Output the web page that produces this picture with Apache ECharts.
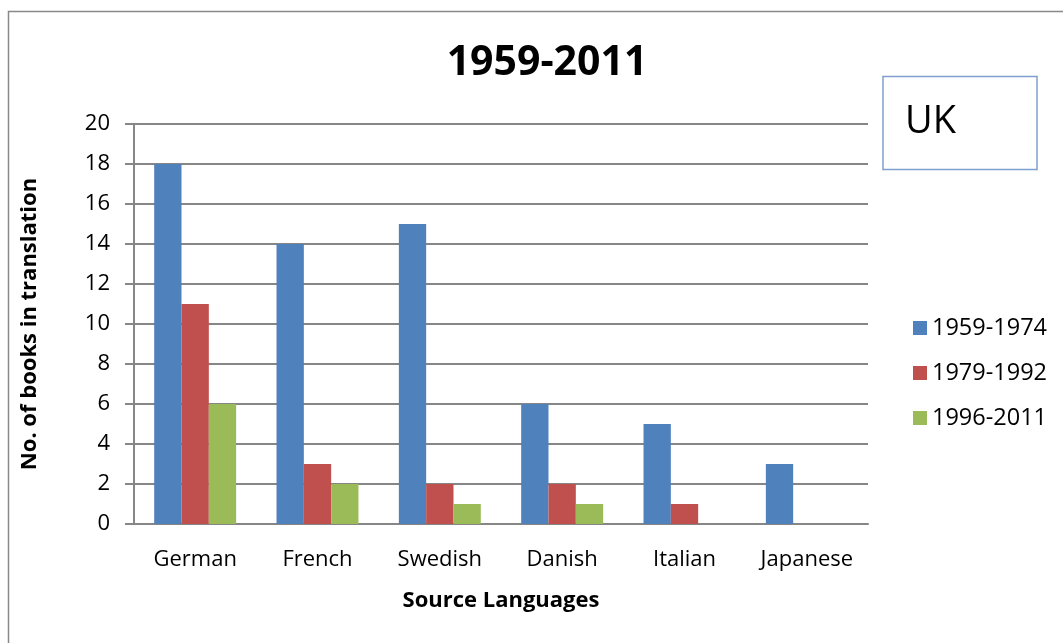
<!DOCTYPE html>
<html><head><meta charset="utf-8">
<script src="https://cdn.jsdelivr.net/npm/echarts@6/dist/echarts.min.js"></script>
<style>html,body{margin:0;padding:0;background:#fff}#c{width:1063px;height:643px}</style>
</head><body><div id="c"></div>
<script>
const categories = ['German', 'French', 'Swedish', 'Danish', 'Italian', 'Japanese'];
const seriesNames = ['1959-1974', '1979-1992', '1996-2011'];
const s1959 = [18, 14, 15, 6, 5, 3];
const s1979 = [11, 3, 2, 2, 1, 0];
const s1996 = [6, 2, 1, 1, 0, 0];
const colors = ['#4F81BD', '#C0504D', '#9BBB59'];
const font = '"Open Sans", "Noto Sans", sans-serif';

const chart = echarts.init(document.getElementById('c'), null, {renderer: 'canvas'});
chart.setOption({
  animation: false,
  textStyle: {fontFamily: font},
  title: {text: '1959-2011', left: 542, top: 38, textAlign: 'center',
    textStyle: {fontSize: 41, fontWeight: 'bold', color: '#000', fontFamily: font}},
  grid: {left: 134, right: 195, top: 124, bottom: 119, containLabel: false},
  legend: {orient: 'vertical', left: 908, top: 311, itemWidth: 14, itemHeight: 14, itemGap: 21,
    icon: 'rect', textStyle: {fontSize: 23.5, color: '#000', fontFamily: font},
    data: seriesNames},
  xAxis: {type: 'category', data: categories,
    axisLine: {lineStyle: {color: '#868686', width: 2}},
    axisTick: {show: false},
    axisLabel: {fontSize: 22, color: '#000', margin: 25},
    name: 'Source Languages', nameLocation: 'middle', nameGap: 66,
    nameTextStyle: {fontSize: 22, fontWeight: 'bold', color: '#000'}},
  yAxis: {type: 'value', min: 0, max: 20, interval: 2,
    axisLine: {show: true, lineStyle: {color: '#868686', width: 2}},
    axisTick: {show: true, length: 9, inside: false, lineStyle: {color: '#868686', width: 2}},
    splitLine: {lineStyle: {color: '#868686', width: 2}},
    axisLabel: {fontSize: 22, color: '#000', margin: 24},
    name: 'No. of books in translation', nameLocation: 'middle', nameGap: 93,
    nameTextStyle: {fontSize: 22, fontWeight: 'bold', color: '#000'}},
  series: [
    {name: seriesNames[0], type: 'bar', data: s1959, itemStyle: {color: colors[0]}, barGap: '0%', barCategoryGap: '33%'},
    {name: seriesNames[1], type: 'bar', data: s1979, itemStyle: {color: colors[1]}},
    {name: seriesNames[2], type: 'bar', data: s1996, itemStyle: {color: colors[2]}}
  ],
  graphic: [
    {type: 'rect', shape: {x: 8.5, y: 11.5, width: 1200, height: 800}, style: {fill: null, stroke: '#898989', lineWidth: 1.5}, silent: true, z: -1},
    {type: 'rect', shape: {x: 883, y: 76.5, width: 154, height: 93}, style: {fill: '#fff', stroke: '#7F9FCE', lineWidth: 1.5}},
    {type: 'text', x: 905, y: 122, style: {text: 'UK', fontSize: 38, fontFamily: font, fill: '#000', verticalAlign: 'middle'}}
  ]
});
</script></body></html>
